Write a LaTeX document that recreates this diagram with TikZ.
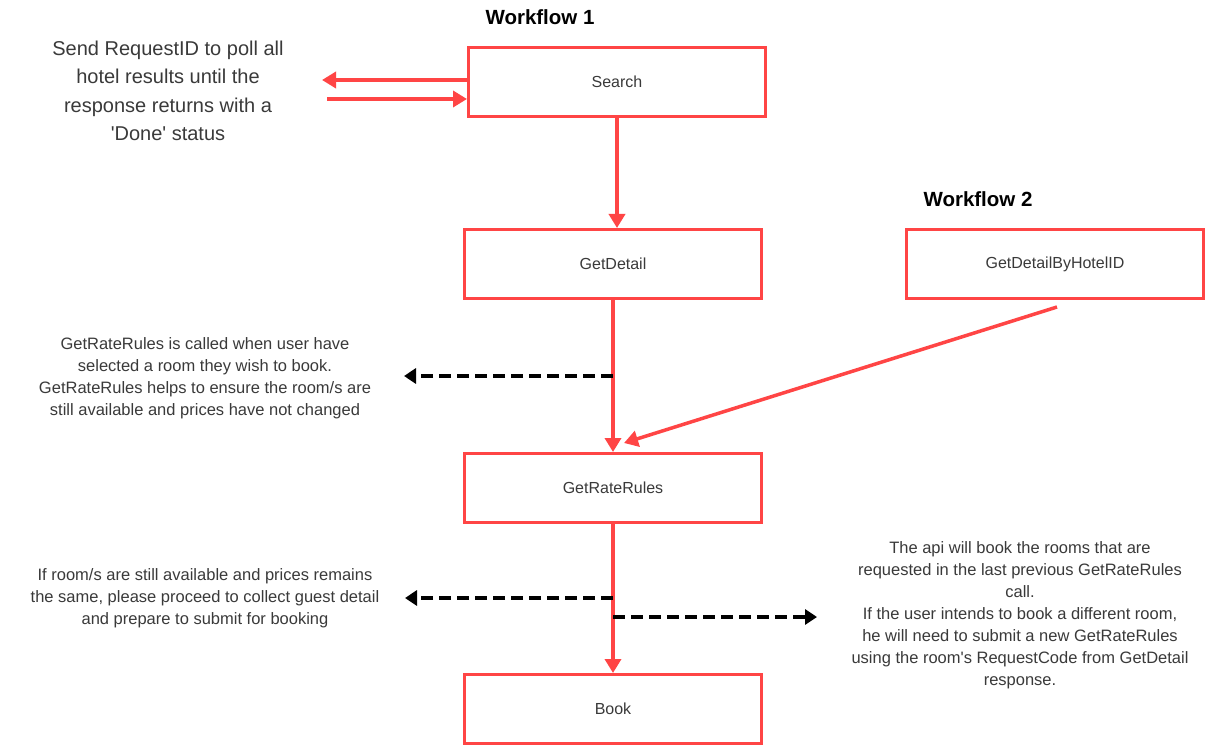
\documentclass[tikz,border=0pt]{standalone}
\usepackage{fontspec}
\setmainfont{Liberation Sans}
\usetikzlibrary{arrows.meta}
\definecolor{boxred}{HTML}{FF4545}
\definecolor{txtgray}{HTML}{3A3A3A}
\begin{document}
\begin{tikzpicture}[x=1pt,y=-1pt,
  box/.style={draw=boxred,line width=3pt,minimum width=297pt,minimum height=69pt,inner sep=0pt,
    font=\fontsize{16}{19}\selectfont,text=txtgray},
  wf/.style={font=\bfseries\fontsize{20.5}{24}\selectfont,text=black},
  note/.style={align=center,text=txtgray,font=\fontsize{16.5}{22}\selectfont,inner sep=0pt},
  bignote/.style={align=center,text=txtgray,font=\fontsize{20}{28.5}\selectfont,inner sep=0pt},
  redarrow/.style={draw=boxred,line width=3.5pt,-{Triangle[length=14pt,width=16pt]}},
  dasharrow/.style={draw=black,line width=4.5pt,dash pattern=on 12pt off 6pt,-{Triangle[length=12pt,width=15pt]}}
]
\useasboundingbox (0,0) rectangle (1207,746);
\fill[white] (0,0) rectangle (1207,746);

\node[wf] (wf1) at (540,17) {Workflow 1};
\node[wf] (wf2) at (978,199) {Workflow 2};

\node[box] (search) at (617,82) {Search};
\node[box] (detail) at (613,264) {GetDetail};
\node[box] (byhotel) at (1055,264) {GetDetailByHotelID};
\node[box] (rate) at (613,488) {GetRateRules};
\node[box] (book) at (613,709) {Book};

\node[bignote] (n1) at (168,91) {Send RequestID to poll all\\hotel results until the\\response returns with a\\\textquotesingle Done\textquotesingle{} status};
\node[note] (n2) at (205,378) {GetRateRules is called when user have\\selected a room they wish to book.\\GetRateRules helps to ensure the room/s are\\still available and prices have not changed};
\node[note] (n3) at (205,598) {If room/s are still available and prices remains\\the same, please proceed to collect guest detail\\and prepare to submit for booking};
\node[note] (n4) at (1020,615) {The api will book the rooms that are\\requested in the last previous GetRateRules\\call.\\If the user intends to book a different room,\\he will need to submit a new GetRateRules\\using the room\textquotesingle s RequestCode from GetDetail\\response.};

% search loop arrows
\coordinate (sl1) at (322,80);
\coordinate (sl2) at (327,99);
\draw[redarrow] (search.west |- sl1) -- (sl1);
\draw[redarrow] (sl2) -- (search.west |- sl2);

% main flow
\draw[redarrow] (search.south -| 617,0) -- (detail.north -| 617,0);
\draw[redarrow] (detail.south) -- (rate.north);
\coordinate (hstart) at (1057,307);
\coordinate (hend) at (624,443);
\draw[redarrow] (hstart) -- (hend);
\draw[redarrow] (rate.south) -- (book.north);

% dashed arrows
\coordinate (d1s) at (613,376);
\coordinate (d1e) at (404,376);
\draw[dasharrow] (d1s) -- (d1e);
\coordinate (d2s) at (613,598);
\coordinate (d2e) at (405,598);
\draw[dasharrow] (d2s) -- (d2e);
\coordinate (d3s) at (613,617);
\coordinate (d3e) at (817,617);
\draw[dasharrow] (d3s) -- (d3e);
\end{tikzpicture}
\end{document}
